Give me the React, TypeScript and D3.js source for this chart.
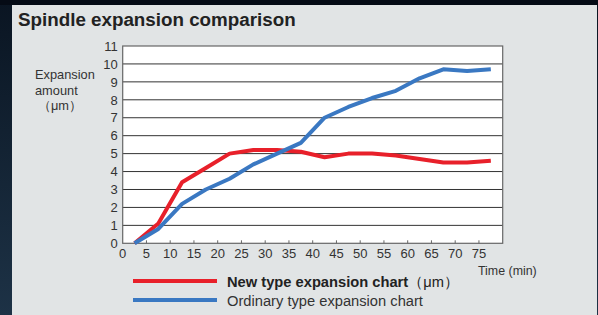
import React from "react";
import * as d3 from "d3";

const times = [2.5, 7.5, 12.5, 17.5, 22.5, 27.5, 32.5, 37.5, 42.5, 47.5, 52.5, 57.5, 62.5, 67.5, 72.5, 77.5];
const newType = [0, 1.1, 3.4, 4.2, 5.0, 5.2, 5.2, 5.1, 4.8, 5.0, 5.0, 4.9, 4.7, 4.5, 4.5, 4.6];
const ordinaryType = [0, 0.8, 2.2, 3.0, 3.6, 4.4, 5.0, 5.6, 7.0, 7.6, 8.1, 8.5, 9.2, 9.7, 9.6, 9.7];
const xTicks = [0, 5, 10, 15, 20, 25, 30, 35, 40, 45, 50, 55, 60, 65, 70, 75];
const yTicks = [0, 1, 2, 3, 4, 5, 6, 7, 8, 9, 10, 11];
const seriesNames = ["New type expansion chart", "Ordinary type expansion chart"];
const title = "Spindle expansion comparison";

const W = 598, H = 315;
const L = 122.7, R = 502.7, T = 46, B = 243.3;
const font = "'Liberation Sans', Arial, sans-serif";

export default function App() {
  const x = d3.scaleLinear().domain([0, 80]).range([L, R]);
  const y = d3.scaleLinear().domain([0, 11]).range([B, T]);
  const line = d3.line<number>().x((_, i) => x(times[i])).y((d) => y(d));
  return (
    <svg width={W} height={H} style={{ position: "fixed", left: 0, top: 0 }}>
      <defs>
        <linearGradient id="bg" x1="0" y1="0" x2="0" y2="1">
          <stop offset="0" stopColor="#0a1522" />
          <stop offset="1" stopColor="#1d3246" />
        </linearGradient>
      </defs>
      <rect x={0} y={0} width={W} height={H} fill="url(#bg)" />
      <rect x={0} y={0} width={W} height={5} fill="#050b15" />
      <rect x={12} y={5} width={585} height={310} fill="#e1e4e5" />
      <text x={18} y={25.5} fontFamily={font} fontWeight="bold" fontSize={18.8} fill="#222">{title}</text>
      <rect x={L} y={T} width={R - L} height={B - T} fill="#fff" />
      {yTicks.slice(1, -1).map((t) => (
        <line key={t} x1={L} x2={R} y1={y(t)} y2={y(t)} stroke="#333" strokeWidth={1} />
      ))}
      <rect x={L} y={T} width={R - L} height={B - T} fill="none" stroke="#666" strokeWidth={1.2} />
      {xTicks.slice(1).map((t) => (
        <line key={t} x1={x(t)} x2={x(t)} y1={B} y2={B - 3} stroke="#666" strokeWidth={1} />
      ))}
      {yTicks.map((t) => (
        <text key={t} x={L - 5} y={y(t) + 4.7} textAnchor="end" fontFamily={font} fontSize={13} fill="#333">{t}</text>
      ))}
      {xTicks.map((t) => (
        <text key={t} x={x(t)} y={B + 15} textAnchor="middle" fontFamily={font} fontSize={13} fill="#333">{t}</text>
      ))}
      <text fontFamily={font} fontSize={12.8} fill="#333">
        <tspan x={35} y={79}>Expansion</tspan>
        <tspan x={35} y={95}>amount</tspan>
        <tspan x={38} y={110}>（μm）</tspan>
      </text>
      <text x={478} y={275} fontFamily={font} fontSize={12.4} fill="#333">Time (min)</text>
      <path d={line(newType) || ""} fill="none" stroke="#e8202a" strokeWidth={4} strokeLinejoin="round" />
      <path d={line(ordinaryType) || ""} fill="none" stroke="#3a78c2" strokeWidth={4} strokeLinejoin="round" />
      <line x1={133} x2={217} y1={281} y2={281} stroke="#e8202a" strokeWidth={4} />
      <line x1={133} x2={217} y1={300} y2={300} stroke="#3a78c2" strokeWidth={4} />
      <text x={227} y={286.5} fontFamily={font} fontSize={14.7} fill="#222">
        <tspan fontWeight="bold">{seriesNames[0]}</tspan><tspan>（μm）</tspan>
      </text>
      <text x={227} y={305.5} fontFamily={font} fontSize={14.7} fill="#333">{seriesNames[1]}</text>
    </svg>
  );
}
